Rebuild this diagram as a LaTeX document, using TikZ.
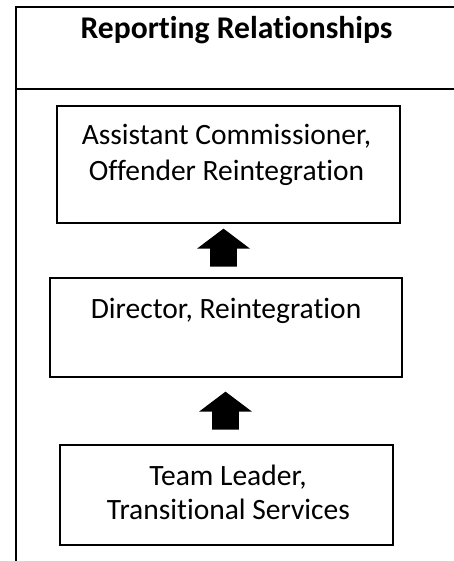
\documentclass[tikz,border=0pt]{standalone}
\usepackage{fontspec}
\setmainfont{Carlito}[Ligatures=NoCommon]
\usetikzlibrary{calc}
\begin{document}
\begin{tikzpicture}[x=1pt,y=-1pt,
  frame/.style={line width=2pt},
  posbox/.style={draw,line width=1.3pt,rectangle},
  lbl/.style={anchor=base,inner sep=0pt,font=\fontsize{29.5}{35}\selectfont},
  blockup/.pic={\fill (0,0) -- (26.5,20) -- (13.3,20) -- (13.3,38)
        -- (-13.3,38) -- (-13.3,20) -- (-26.5,20) -- cycle;}]
  \useasboundingbox (0,0) rectangle (453,561);

  % table frame with the heading row
  \coordinate (tl) at (16.3,7);
  \coordinate (tr) at (460,7);
  \coordinate (ml) at (16.3,89.5);
  \coordinate (mr) at (460,89.5);
  \coordinate (bl) at (16.3,565);
  \draw[frame] (tr) -- (tl) -- (bl);
  \draw[frame] (ml) -- (mr);
  \node[lbl,font=\fontsize{31.6}{36}\selectfont\bfseries] (title) at (236.5,38.3) {Reporting Relationships};

  % position boxes
  \node[posbox,minimum width=343,minimum height=117] (box1) at (228.5,164.5) {};
  \node[posbox,minimum width=352,minimum height=99] (box2) at (226,327.5) {};
  \node[posbox,minimum width=333,minimum height=100] (box3) at (226.5,495) {};

  \node[lbl] (b1a) at (226.5,145) {Assistant Commissioner,};
  \node[lbl] (b1b) at (226.5,181) {Offender Reintegration};
  \node[lbl] (b2a) at (226,318.3) {Director, Reintegration};
  \node[lbl] (b3a) at (228,485) {Team Leader,};
  \node[lbl] (b3b) at (228.5,519) {Transitional Services};

  % reporting arrows
  \pic at ($(box1.south)+(-5,5)$) {blockup};
  \pic at ($(box2.south)+(-0.5,14)$) {blockup};
\end{tikzpicture}
\end{document}
